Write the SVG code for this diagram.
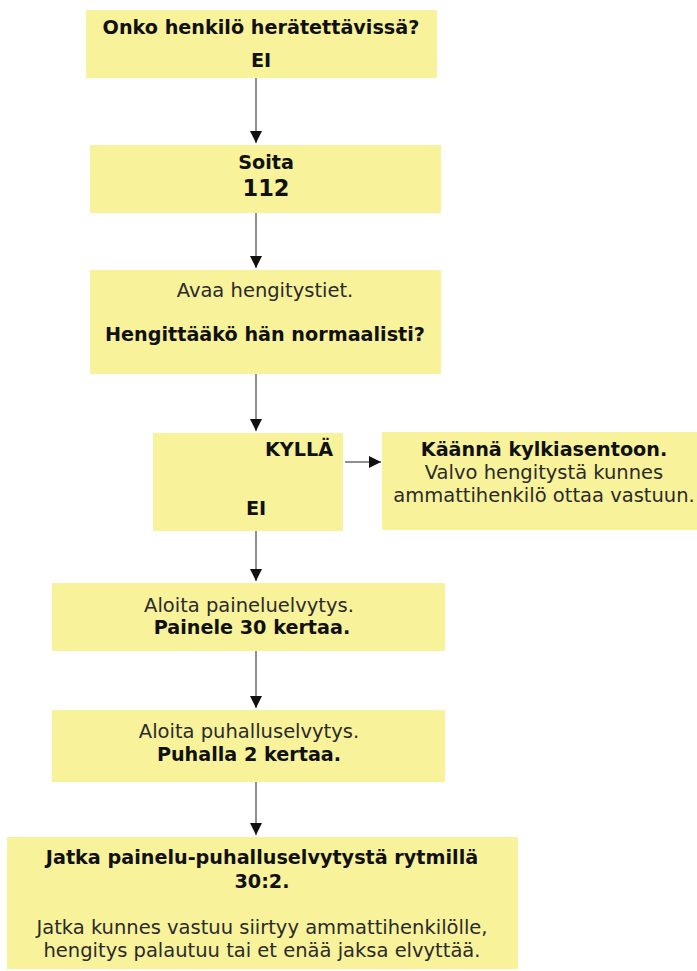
<svg xmlns="http://www.w3.org/2000/svg" width="697" height="971" viewBox="0 0 697 971">
<defs>
<style>
.box{fill:#f8f29b;}
text{font-family:"DejaVu Sans","Verdana",sans-serif;font-size:19.5px;fill:#2a2a2a;text-anchor:middle;}
.b{font-weight:bold;fill:#111;font-size:19.2px;}
.conn line{stroke:#8f8f8f;stroke-width:2;}
</style>
<marker id="ah" viewBox="0 0 12 12" refX="12" refY="6" markerWidth="12" markerHeight="12" markerUnits="userSpaceOnUse" orient="auto">
<path d="M0,0 L12,6 L0,12 Z" fill="#111"/>
</marker>
</defs>
<rect width="697" height="971" fill="#ffffff"/>
<g class="conn" id="connectors">
<line x1="256" y1="78" x2="256" y2="143" marker-end="url(#ah)"/>
<line x1="256" y1="213" x2="256" y2="268" marker-end="url(#ah)"/>
<line x1="256" y1="374" x2="256" y2="431" marker-end="url(#ah)"/>
<line x1="345" y1="462" x2="381" y2="462" marker-end="url(#ah)"/>
<line x1="256" y1="531" x2="256" y2="581" marker-end="url(#ah)"/>
<line x1="256" y1="651" x2="256" y2="708" marker-end="url(#ah)"/>
<line x1="256" y1="782" x2="256" y2="835" marker-end="url(#ah)"/>
</g>
<g id="n1">
<rect class="box" x="86" y="10" width="351" height="68"/>
<text class="b" x="261" y="34">Onko henkilö herätettävissä?</text>
<text class="b" x="261" y="67">EI</text>
</g>
<g id="n2">
<rect class="box" x="90" y="145" width="351" height="68"/>
<text class="b" x="266" y="169">Soita</text>
<text class="b" x="266" y="196" style="font-size:22.5px">112</text>
</g>
<g id="n3">
<rect class="box" x="90" y="270" width="351" height="104"/>
<text x="265" y="297">Avaa hengitystiet.</text>
<text class="b" x="265" y="341">Hengittääkö hän normaalisti?</text>
</g>
<g id="n4">
<rect class="box" x="153" y="433" width="190" height="98"/>
<text class="b" x="333" y="456" style="text-anchor:end">KYLLÄ</text>
<text class="b" x="256" y="515">EI</text>
</g>
<g id="n5">
<rect class="box" x="382" y="432" width="315" height="98"/>
<text class="b" x="544" y="456">Käännä kylkiasentoon.</text>
<text x="544" y="479">Valvo hengitystä kunnes</text>
<text x="544" y="502">ammattihenkilö ottaa vastuun.</text>
</g>
<g id="n6">
<rect class="box" x="52" y="583" width="393" height="68"/>
<text x="249" y="612">Aloita paineluelvytys.</text>
<text class="b" x="252" y="634">Painele 30 kertaa.</text>
</g>
<g id="n7">
<rect class="box" x="52" y="710" width="393" height="72"/>
<text x="249" y="738">Aloita puhalluselvytys.</text>
<text class="b" x="249" y="761">Puhalla 2 kertaa.</text>
</g>
<g id="n8">
<rect class="box" x="7" y="837" width="511" height="132"/>
<text class="b" x="262" y="864">Jatka painelu-puhalluselvytystä rytmillä</text>
<text class="b" x="262" y="888">30:2.</text>
<text x="262" y="934">Jatka kunnes vastuu siirtyy ammattihenkilölle,</text>
<text x="262" y="957">hengitys palautuu tai et enää jaksa elvyttää.</text>
</g>
</svg>
